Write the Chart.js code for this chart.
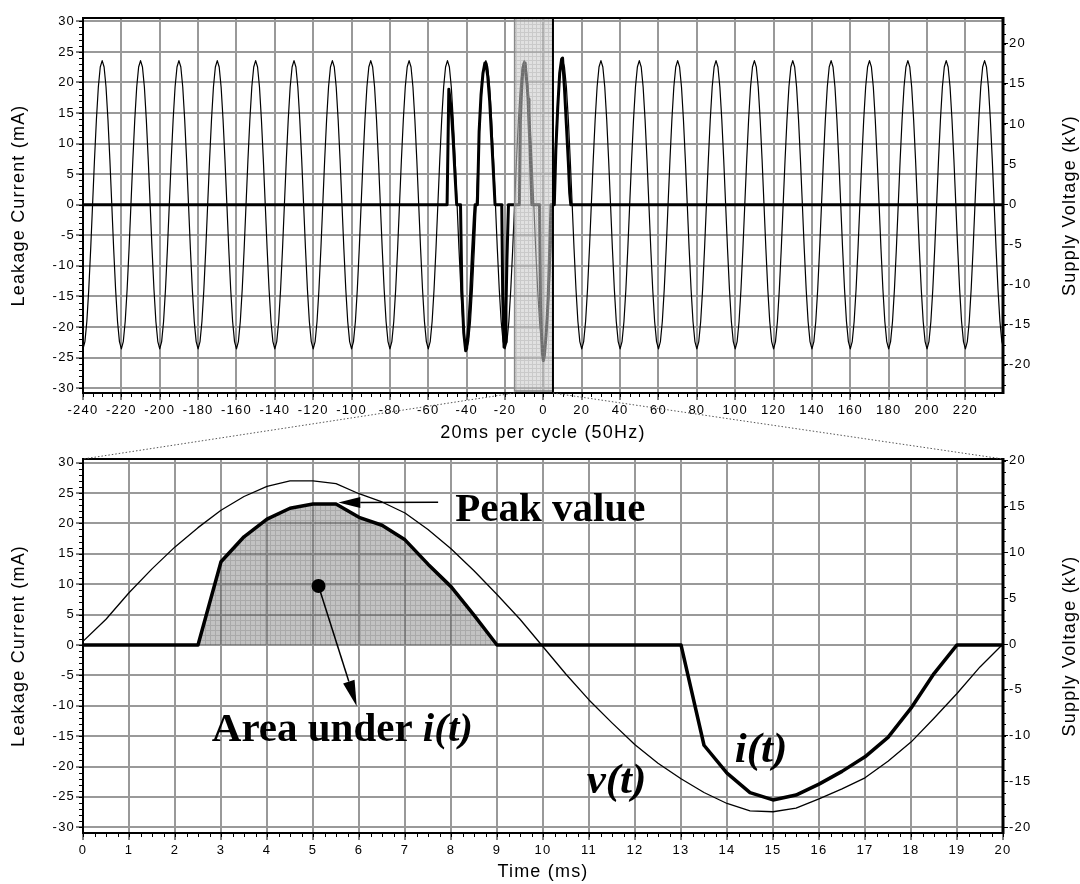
<!DOCTYPE html>
<html>
<head>
<meta charset="utf-8">
<script src="https://cdn.jsdelivr.net/npm/chart.js"></script>
<style>
  html, body { margin: 0; padding: 0; background: #fff; overflow: hidden; }
  #marco { position: relative; width: 1080px; height: 884px; }
  #marco canvas { position: absolute; left: 0; top: 0; }
</style>
</head>
<body>
<div id="marco">
  <canvas id="graficoSup" width="1080" height="884"></canvas>
  <canvas id="graficoInf" width="1080" height="884"></canvas>
</div>
<script>
// ---- Datos ----

// Etiquetas de los ejes
const ejeTiempoSup = [-240, -220, -200, -180, -160, -140, -120, -100, -80, -60, -40, -20, 0, 20, 40, 60, 80, 100, 120, 140, 160, 180, 200, 220];
const ejeTiempoInf = [0, 1, 2, 3, 4, 5, 6, 7, 8, 9, 10, 11, 12, 13, 14, 15, 16, 17, 18, 19, 20];
const ejeCorriente = [-30, -25, -20, -15, -10, -5, 0, 5, 10, 15, 20, 25, 30];
const ejeTension = [-20, -15, -10, -5, 0, 5, 10, 15, 20];

// Ciclo ampliado (ms 0 a 20), muestras cada 0.5 ms
const tiempoZoom = [0, 0.5, 1, 1.5, 2, 2.5, 3, 3.5, 4, 4.5, 5, 5.5, 6, 6.5, 7, 7.5, 8, 8.5, 9, 9.5, 10,
    10.5, 11, 11.5, 12, 12.5, 13, 13.5, 14, 14.5, 15, 15.5, 16, 16.5, 17, 17.5, 18, 18.5, 19, 19.5, 20];
const corrienteZoom = [0, 0, 0, 0, 0, 0, 13.7, 17.8, 20.7, 22.5, 23.2, 23.2, 21.0, 19.7, 17.3, 13.3, 9.6, 4.9, 0, 0, 0,
    0, 0, 0, 0, 0, 0, -16.5, -21.1, -24.3, -25.5, -24.7, -22.9, -20.8, -18.4, -15.2, -10.4, -4.7, 0, 0, 0];
const tensionZoom = [0.3, 2.7, 5.6, 8.2, 10.6, 12.7, 14.6, 16.1, 17.2, 17.8, 17.8, 17.5, 16.4, 15.5, 14.3, 12.5, 10.4, 8.0, 5.4, 2.7, -0.3,
    -3.3, -6.1, -8.6, -11.0, -13.0, -14.7, -16.2, -17.4, -18.2, -18.3, -17.9, -16.9, -15.8, -14.6, -12.8, -10.7, -8.1, -5.4, -2.5, 0];

// Ventana ampliada dentro del registro largo (ms)
const inicioVentana = -15;
const finVentana = 5;

// Tension del registro largo: un ciclo de 20 ms muestreado cada 1 ms (kV), empieza en el minimo
const pasoMuestra = 1;
const cicloTension = [-18.0, -17.1, -14.6, -10.6, -5.6, 0, 5.6, 10.6, 14.6, 17.1, 17.9, 17.1, 14.6, 10.6, 5.6, 0, -5.6, -10.6, -14.6, -17.1];

// Corriente del registro largo antes y despues de la ventana (mA)
const tiempoAntes = [-240, -50.2, -49.3, -48, -47, -46, -45.2, -43.2, -42.5, -41.5, -40.5, -40, -39, -38, -37, -36, -35.6,
    -34.4, -33.5, -32.5, -31.5, -30.5, -30, -29, -28, -27, -26, -25.2, -21.7, -21.2, -20.5, -20, -19.5, -19, -18.2, -15];
const corrienteAntes = [0, 0, 18.9, 15.5, 10.5, 4.5, 0, 0, -14, -21, -23.9, -23.5, -20, -15, -8, -2, 0,
    0, 12, 18, 21.5, 23.2, 23.2, 21, 17, 11, 5, 0, 0, -15, -23.3, -22.5, -17, -9, 0, 0];
const tiempoDespues = [5.7, 6.5, 7.5, 8.5, 9.5, 10, 11, 12, 13, 13.7, 14.3, 240];
const corrienteDespues = [0, 9, 16, 21.5, 23.8, 24, 19, 13, 7, 2, 0, 0];

// Area sombreada bajo i(t)
const areaDesde = 2.5;
const areaHasta = 9;

// Posiciones de las anotaciones (ms, mA)
const textoPico = { t: 8.09, ma: 20.4 };
const flechaPico = { desde: { t: 7.72, ma: 23.5 }, hasta: { t: 5.55, ma: 23.45 } };
const puntoArea = { t: 5.12, ma: 9.7 };
const flechaArea = { t: 5.95, ma: -10.1 };
const textoArea = { t: 2.8, ma: -15.8 };
const textoV = { t: 10.95, ma: -24.4 };
const textoI = { t: 14.17, ma: -19.25 };

document.addEventListener('DOMContentLoaded', function () {
    const FUENTE = '"Liberation Sans", Arial, sans-serif';
    const SERIF = '"Liberation Serif", "Times New Roman", serif';
    const COLOR_REJILLA = '#999999';
    const fuenteTicks = { family: FUENTE, size: 13 };
    const fuenteTitulo = { family: FUENTE, size: 18 };

    // Patron de trama fina para rellenos
    function crearPatron(base, linea, lado) {
        const c = document.createElement('canvas');
        c.width = lado;
        c.height = lado;
        const g = c.getContext('2d');
        g.fillStyle = base;
        g.fillRect(0, 0, lado, lado);
        g.fillStyle = linea;
        g.fillRect(0, 0, lado, 1);
        g.fillRect(0, 1, 1, lado - 1);
        return g.createPattern(c, 'repeat');
    }
    const patronArea = crearPatron('rgba(110,110,110,0.42)', 'rgba(80,80,80,0.22)', 5);
    const patronVentana = crearPatron('rgba(200,200,200,0.55)', 'rgba(150,150,150,0.3)', 4);

    // Armar las series
    const corrienteSup = [];
    tiempoAntes.forEach((t, i) => corrienteSup.push({ x: t, y: corrienteAntes[i] }));
    tiempoZoom.forEach((t, i) => corrienteSup.push({ x: inicioVentana + t, y: corrienteZoom[i] }));
    tiempoDespues.forEach((t, i) => corrienteSup.push({ x: t, y: corrienteDespues[i] }));

    const tensionSup = [];
    const ciclos = (240 - (-240)) / (cicloTension.length * pasoMuestra);
    for (let c = 0; c < ciclos; c++) {
        cicloTension.forEach((v, k) => tensionSup.push({ x: -240 + c * 20 + k * pasoMuestra, y: v }));
    }
    tensionSup.push({ x: 240, y: cicloTension[0] });

    const corrienteInf = tiempoZoom.map((t, i) => ({ x: t, y: corrienteZoom[i] }));
    const tensionInf = tiempoZoom.map((t, i) => ({ x: t, y: tensionZoom[i] }));
    const areaInf = corrienteInf.filter(p => p.x >= areaDesde && p.x <= areaHasta);

    // Ejes
    function ejeX(min, max, ticks, titulo, alto) {
        return {
            type: 'linear', position: 'bottom', min: min, max: max,
            afterBuildTicks: function (s) { s.ticks = ticks.map(v => ({ value: v })); },
            afterFit: function (s) { s.height = alto; },
            grid: { color: COLOR_REJILLA, lineWidth: 2, tickColor: '#000', tickLength: 7, tickWidth: 1 },
            border: { display: false },
            ticks: { autoSkip: false, maxRotation: 0, padding: 3, color: '#000', font: fuenteTicks },
            title: { display: true, text: titulo, color: '#000', font: fuenteTitulo, padding: 0 }
        };
    }
    function ejeIzq(min, max) {
        return {
            type: 'linear', position: 'left', min: min, max: max,
            afterBuildTicks: function (s) { s.ticks = ejeCorriente.map(v => ({ value: v })); },
            afterFit: function (s) { s.width = 83; },
            grid: { color: COLOR_REJILLA, lineWidth: 2, tickColor: '#000', tickLength: 7, tickWidth: 1 },
            border: { display: false },
            ticks: { padding: 1, color: '#000', font: fuenteTicks },
            title: { display: true, text: 'Leakage Current (mA)', color: '#000', font: fuenteTitulo, padding: { top: 8.5, bottom: 0 } }
        };
    }
    function ejeDer(min, max) {
        return {
            type: 'linear', position: 'right', min: min, max: max,
            afterBuildTicks: function (s) { s.ticks = ejeTension.map(v => ({ value: v })); },
            afterFit: function (s) { s.width = 77; },
            grid: { drawOnChartArea: false, tickColor: '#000', tickLength: 5, tickWidth: 1 },
            border: { display: false },
            ticks: { padding: 1, color: '#000', font: fuenteTicks }
        };
    }

    // Espaciado de letras como en el original
    const espaciado = {
        id: 'espaciado',
        beforeUpdate(chart) { chart.ctx.letterSpacing = '1.2px'; },
        beforeDraw(chart) { chart.ctx.letterSpacing = '1.2px'; }
    };

    // Ticks menores en los tres ejes
    const ticksMenores = {
        id: 'ticksMenores',
        afterDraw(chart, args, opts) {
            const ctx = chart.ctx;
            const a = chart.chartArea;
            ctx.save();
            ctx.strokeStyle = '#000';
            ctx.lineWidth = 1;
            Object.keys(opts.pasos).forEach(function (id) {
                const s = chart.scales[id];
                const paso = opts.pasos[id];
                const n0 = Math.ceil(s.min / paso - 1e-9);
                const n1 = Math.floor(s.max / paso + 1e-9);
                ctx.beginPath();
                for (let n = n0; n <= n1; n++) {
                    const p = Math.round(s.getPixelForValue(n * paso)) + 0.5;
                    if (id === 'x') {
                        ctx.moveTo(p, a.bottom);
                        ctx.lineTo(p, a.bottom + 4);
                    } else if (id === 'y') {
                        ctx.moveTo(a.left - 4, p);
                        ctx.lineTo(a.left, p);
                    } else {
                        ctx.moveTo(a.right, p);
                        ctx.lineTo(a.right + 3, p);
                    }
                }
                ctx.stroke();
            });
            ctx.restore();
        }
    };

    // Borde del area de trazado
    function dibujarBorde(ctx, a) {
        ctx.save();
        ctx.strokeStyle = '#000';
        ctx.lineWidth = 2;
        ctx.beginPath();
        ctx.moveTo(a.right, a.top);
        ctx.lineTo(a.left, a.top);
        ctx.lineTo(a.left, a.bottom);
        ctx.lineTo(a.right, a.bottom);
        ctx.stroke();
        ctx.lineWidth = 3;
        ctx.beginPath();
        ctx.moveTo(a.right, a.top - 1);
        ctx.lineTo(a.right, a.bottom + 1);
        ctx.stroke();
        ctx.restore();
    }

    // Titulo del eje derecho (se lee de abajo hacia arriba)
    const tituloDerecho = {
        id: 'tituloDerecho',
        afterDraw(chart) {
            const a = chart.chartArea;
            const ctx = chart.ctx;
            ctx.save();
            ctx.translate(a.right + 67, (a.top + a.bottom) / 2);
            ctx.rotate(-Math.PI / 2);
            ctx.font = '18px ' + FUENTE;
            ctx.fillStyle = '#000';
            ctx.textAlign = 'center';
            ctx.textBaseline = 'middle';
            ctx.fillText('Supply Voltage (kV)', 0, 0);
            ctx.restore();
        }
    };

    // Ventana sombreada y borde del grafico superior
    const ventana = {
        id: 'ventana',
        afterDatasetsDraw(chart) {
            const ctx = chart.ctx;
            const a = chart.chartArea;
            const x0 = chart.scales.x.getPixelForValue(inicioVentana);
            const x1 = chart.scales.x.getPixelForValue(finVentana);
            ctx.save();
            ctx.fillStyle = patronVentana;
            ctx.fillRect(x0, a.top, x1 - x0, a.bottom - a.top);
            ctx.strokeStyle = '#888';
            ctx.lineWidth = 1.5;
            ctx.beginPath();
            ctx.moveTo(x0, a.top);
            ctx.lineTo(x0, a.bottom - 2);
            ctx.lineTo(x1, a.bottom - 2);
            ctx.stroke();
            ctx.strokeStyle = '#000';
            ctx.lineWidth = 2;
            ctx.beginPath();
            ctx.moveTo(x1, a.top);
            ctx.lineTo(x1, a.bottom);
            ctx.stroke();
            ctx.restore();
            dibujarBorde(ctx, a);
        }
    };

    const opcionesBase = {
        responsive: false,
        animation: false,
        events: [],
        plugins: { legend: { display: false }, tooltip: { enabled: false } },
        elements: { point: { radius: 0 }, line: { tension: 0, borderJoinStyle: 'round' } }
    };

    // Grafico superior: registro largo
    const graficoSuperior = new Chart(document.getElementById('graficoSup'), {
        type: 'line',
        data: {
            datasets: [
                { label: 'i(t)', data: corrienteSup, yAxisID: 'y', borderColor: '#000', borderWidth: 3 },
                { label: 'v(t)', data: tensionSup, yAxisID: 'y2', borderColor: '#000', borderWidth: 1.2 }
            ]
        },
        options: Object.assign({}, opcionesBase, {
            layout: { padding: { top: 18, left: 0, right: 0, bottom: 440 } },
            scales: {
                x: ejeX(-240, 239.6, ejeTiempoSup, '20ms per cycle (50Hz)', 51),
                y: ejeIzq(-30.8, 30.55),
                y2: ejeDer(-23.5, 23.2)
            },
            plugins: Object.assign({}, opcionesBase.plugins, {
                ticksMenores: { pasos: { x: 5, y: 1, y2: 1.25 } }
            })
        }),
        plugins: [espaciado, ventana, ticksMenores, tituloDerecho]
    });

    // Anotaciones del grafico inferior
    function flecha(ctx, x0, y0, x1, y1, largo, ancho) {
        const ang = Math.atan2(y1 - y0, x1 - x0);
        const bx = x1 - largo * Math.cos(ang);
        const by = y1 - largo * Math.sin(ang);
        ctx.lineWidth = 1.5;
        ctx.beginPath();
        ctx.moveTo(x0, y0);
        ctx.lineTo(bx, by);
        ctx.stroke();
        ctx.beginPath();
        ctx.moveTo(x1, y1);
        ctx.lineTo(bx + ancho * Math.sin(ang), by - ancho * Math.cos(ang));
        ctx.lineTo(bx - ancho * Math.sin(ang), by + ancho * Math.cos(ang));
        ctx.closePath();
        ctx.fill();
    }

    const anotaciones = {
        id: 'anotaciones',
        afterDatasetsDraw(chart) {
            const ctx = chart.ctx;
            const px = t => chart.scales.x.getPixelForValue(t);
            const py = m => chart.scales.y.getPixelForValue(m);
            dibujarBorde(ctx, chart.chartArea);
            ctx.save();
            ctx.letterSpacing = '0px';
            ctx.fillStyle = '#000';
            ctx.strokeStyle = '#000';
            ctx.textAlign = 'left';
            ctx.textBaseline = 'alphabetic';

            // Valor pico
            ctx.font = 'bold 41px ' + SERIF;
            ctx.fillText('Peak value', px(textoPico.t), py(textoPico.ma));
            flecha(ctx, px(flechaPico.desde.t), py(flechaPico.desde.ma), px(flechaPico.hasta.t), py(flechaPico.hasta.ma), 22, 5.5);

            // Area bajo i(t)
            ctx.beginPath();
            ctx.arc(px(puntoArea.t), py(puntoArea.ma), 7, 0, Math.PI * 2);
            ctx.fill();
            flecha(ctx, px(puntoArea.t), py(puntoArea.ma), px(flechaArea.t), py(flechaArea.ma), 26, 6);
            ctx.font = 'bold 41px ' + SERIF;
            const parte1 = 'Area under ';
            ctx.fillText(parte1, px(textoArea.t), py(textoArea.ma));
            const ancho1 = ctx.measureText(parte1).width;
            ctx.font = 'italic bold 41px ' + SERIF;
            ctx.fillText('i(t)', px(textoArea.t) + ancho1, py(textoArea.ma));

            // Etiquetas de las curvas
            ctx.font = 'italic bold 43px ' + SERIF;
            ctx.fillText('v(t)', px(textoV.t), py(textoV.ma));
            ctx.fillText('i(t)', px(textoI.t), py(textoI.ma));
            ctx.restore();
        },
        afterDraw(chart) {
            // Lineas punteadas desde la ventana hasta el grafico ampliado
            const ctx = chart.ctx;
            const aS = graficoSuperior.chartArea;
            const xs = graficoSuperior.scales.x;
            const aI = chart.chartArea;
            ctx.save();
            ctx.strokeStyle = '#555';
            ctx.lineWidth = 1;
            ctx.setLineDash([1.5, 2]);
            ctx.beginPath();
            ctx.moveTo(xs.getPixelForValue(inicioVentana), aS.bottom);
            ctx.lineTo(aI.left, aI.top);
            ctx.moveTo(xs.getPixelForValue(finVentana), aS.bottom);
            ctx.lineTo(aI.right, aI.top);
            ctx.stroke();
            ctx.restore();
        }
    };

    // Grafico inferior: un ciclo ampliado
    new Chart(document.getElementById('graficoInf'), {
        type: 'line',
        data: {
            datasets: [
                { label: 'i(t)', data: corrienteInf, yAxisID: 'y', borderColor: '#000', borderWidth: 3.5 },
                { label: 'v(t)', data: tensionInf, yAxisID: 'y2', borderColor: '#000', borderWidth: 1.3 },
                { label: 'area', data: areaInf, yAxisID: 'y', borderWidth: 0, fill: 'origin', backgroundColor: patronArea }
            ]
        },
        options: Object.assign({}, opcionesBase, {
            layout: { padding: { top: 459, left: 0, right: 0, bottom: 1 } },
            scales: {
                x: ejeX(0, 20, ejeTiempoInf, 'Time (ms)', 50),
                y: ejeIzq(-30.94, 30.6),
                y2: ejeDer(-20.62, 20.19)
            },
            plugins: Object.assign({}, opcionesBase.plugins, {
                ticksMenores: { pasos: { x: 0.25, y: 1, y2: 1.25 } }
            })
        }),
        plugins: [espaciado, anotaciones, ticksMenores, tituloDerecho]
    });
});
</script>
</body>
</html>
